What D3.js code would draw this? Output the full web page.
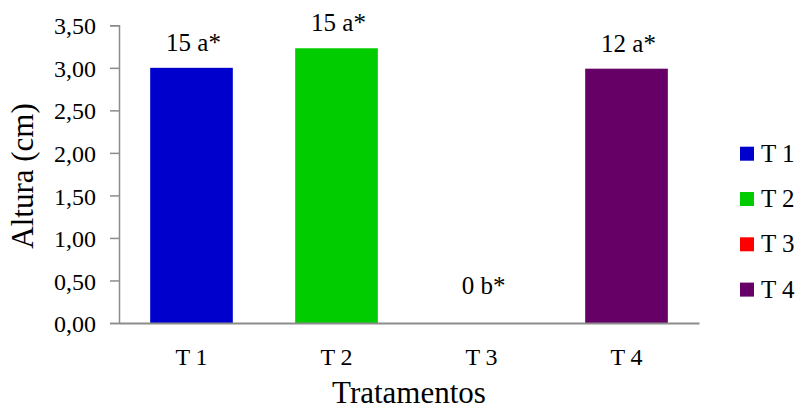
<!DOCTYPE html>
<html><head><meta charset="utf-8">
<script src="https://cdn.jsdelivr.net/npm/d3@7"></script>
<style>body{margin:0;background:#fff}svg{display:block}</style>
</head><body>
<script>
const categories = ["T 1", "T 2", "T 3", "T 4"];
const values = [3.00, 3.23, 0.00, 2.99];
const labels = ["15 a*", "15 a*", "0 b*", "12 a*"];
const colors = ["#0000CC", "#00CC00", "#FF0000", "#660066"];
const yTicks = [0, 0.5, 1, 1.5, 2, 2.5, 3, 3.5];

const FONT = "'Liberation Serif', 'Times New Roman', Times, serif";
const W = 798, H = 410;
const m = {left: 119, right: 99, top: 25.3, bottom: 87};
const svg = d3.select("body").append("svg").attr("width", W).attr("height", H)
  .style("font-family", FONT);

const x = d3.scaleBand().domain(categories).range([m.left, W - m.right]).paddingInner(0.43).paddingOuter(0.215);
const y = d3.scaleLinear().domain([0, 3.5]).range([H - m.bottom, m.top]);
const fmt = v => d3.format(".2f")(v).replace(".", ",");

// y axis
const ya = svg.append("g").attr("transform", `translate(${m.left},0)`)
  .call(d3.axisLeft(y).tickValues(yTicks).tickFormat(fmt).tickSize(9).tickPadding(14));
ya.attr("font-family", null).attr("font-size", null);
ya.select(".domain").attr("stroke", "#8c8c8c").attr("stroke-width", 1.5);
ya.selectAll(".tick line").attr("stroke", "#8c8c8c").attr("stroke-width", 1.5);
ya.selectAll(".tick text").style("font-family", FONT).style("font-size", "24px").attr("fill", "#000").attr("dy", "0.36em");

// bars
svg.append("g").selectAll("rect").data(values).join("rect")
  .attr("x", (d, i) => x(categories[i]))
  .attr("width", x.bandwidth())
  .attr("y", d => y(d))
  .attr("height", d => y(0) - y(d))
  .attr("fill", (d, i) => colors[i]);

// x axis
const xa = svg.append("g").attr("transform", `translate(0,${y(0)})`)
  .call(d3.axisBottom(x).tickSize(0).tickPadding(25).tickSizeOuter(0));
xa.attr("font-family", null).attr("font-size", null);
xa.select(".domain").attr("stroke", "#8c8c8c").attr("stroke-width", 2);
xa.selectAll(".tick text").style("font-family", FONT).style("font-size", "24px").attr("fill", "#000");

// data labels
svg.append("g").selectAll("text").data(values).join("text")
  .attr("x", (d, i) => x(categories[i]) + x.bandwidth() / 2 + 2)
  .attr("y", d => Math.min(y(d) - 17, y(0) - 29))
  .attr("text-anchor", "middle").style("font-family", FONT).style("font-size", "25px")
  .text((d, i) => labels[i]);

// axis titles
svg.append("text").attr("transform", `translate(33,176) rotate(-90)`)
  .attr("text-anchor", "middle").style("font-family", FONT).style("font-size", "31px").text("Altura (cm)");
svg.append("text").attr("x", (m.left + W - m.right) / 2).attr("y", 403)
  .attr("text-anchor", "middle").style("font-family", FONT).style("font-size", "31px").text("Tratamentos");

// legend
const lg = svg.append("g").selectAll("g").data(categories).join("g")
  .attr("transform", (d, i) => `translate(740,${146.7 + i * 45.3})`);
lg.append("rect").attr("width", 14).attr("height", 14).attr("fill", (d, i) => colors[i]);
lg.append("text").attr("x", 21).attr("y", 15).style("font-family", FONT).style("font-size", "25px").text(d => d);
</script>
</body></html>
